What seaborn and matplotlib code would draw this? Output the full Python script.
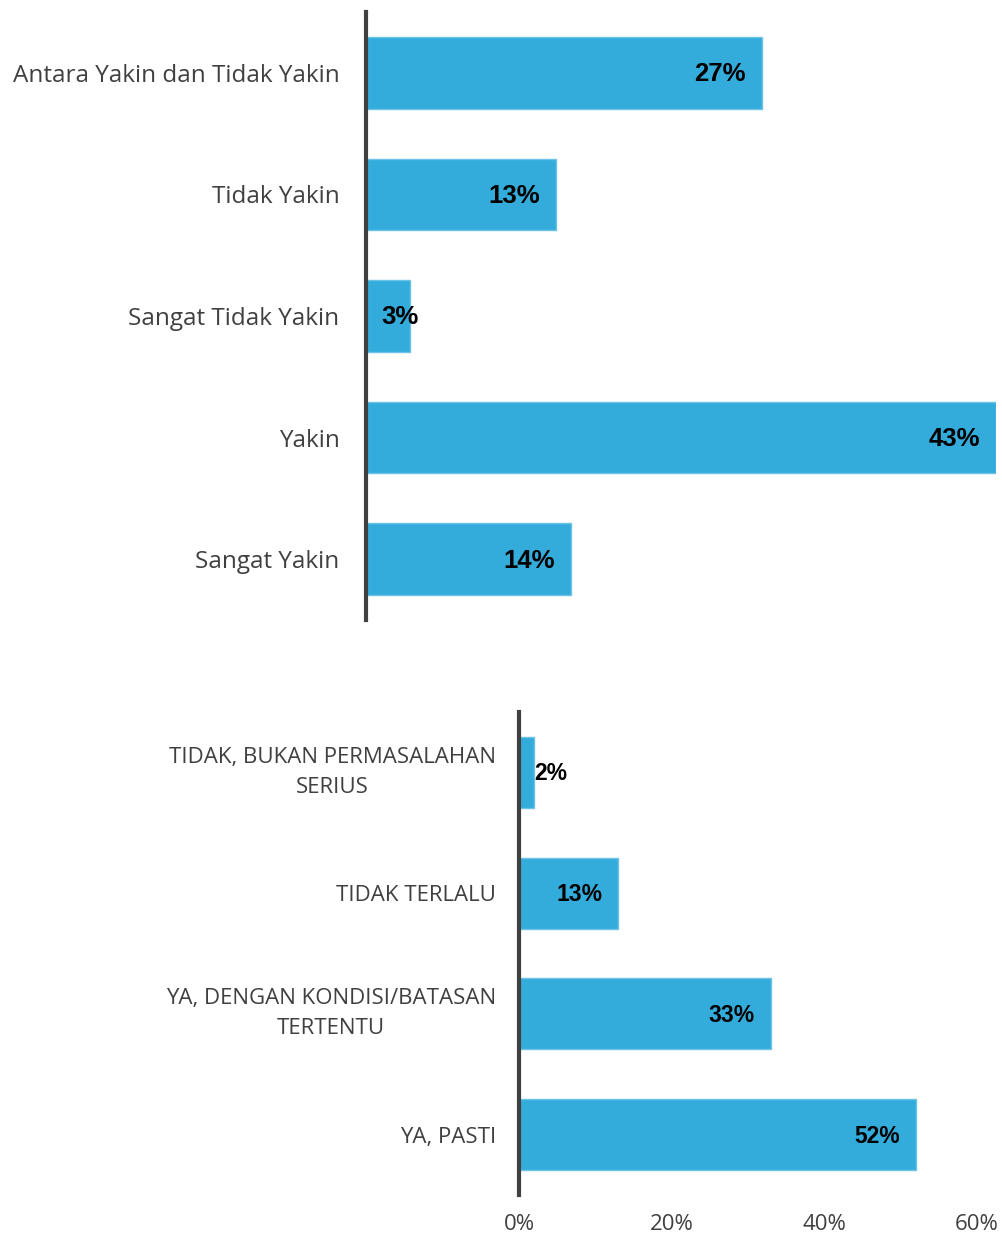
import matplotlib
matplotlib.use("Agg")
import matplotlib.pyplot as plt
import seaborn as sns
import pandas as pd

# Survey results
conf_labels = ["Antara Yakin dan Tidak Yakin", "Tidak Yakin", "Sangat Tidak Yakin",
               "Yakin", "Sangat Yakin"]
conf_values = [27, 13, 3, 43, 14]

issue_labels = ["TIDAK, BUKAN PERMASALAHAN\nSERIUS", "TIDAK TERLALU",
                "YA, DENGAN KONDISI/BATASAN\nTERTENTU", "YA, PASTI"]
issue_values = [2, 13, 33, 52]
issue_ticks = [0, 20, 40, 60]

BAR = "#33ACDB"
EDGE = "#6CC3E6"
SPINE = "#404040"
TEXT = "#404040"

sns.set_theme(style="white")
plt.rcParams["font.family"] = ["Open Sans", "DejaVu Sans"]

W, H = 1002, 1237
fig = plt.figure(figsize=(W / 100, H / 100), dpi=100)


def frac(x0, x1, ytop, ybot):
    return [x0 / W, (H - ybot) / H, (x1 - x0) / W, (ybot - ytop) / H]


def draw(ax, labels, values, xmax, lab_size, val_size, pad):
    df = pd.DataFrame({"cat": labels, "val": values})
    sns.barplot(data=df, y="cat", x="val", orient="h", color=BAR, width=0.59,
                edgecolor=EDGE, linewidth=1, saturation=1, ax=ax)
    ax.set_xlim(0, xmax)
    ax.set_ylim(len(labels) - 0.5, -0.5)
    ax.set_xlabel("")
    ax.set_ylabel("")
    for s in ["top", "right", "bottom"]:
        ax.spines[s].set_visible(False)
    ax.spines["left"].set_color(SPINE)
    ax.spines["left"].set_linewidth(3)
    ax.spines["left"].set_zorder(5)
    ax.tick_params(axis="y", length=0, pad=pad, labelsize=lab_size, labelcolor=TEXT)
    for t in ax.get_yticklabels():
        t.set_multialignment("center")
        t.set_linespacing(1.55)
        if "\n" in t.get_text():
            t.set_verticalalignment("center")
    for i, v in enumerate(values):
        if v < 5:
            ax.annotate(f"{v}%", xy=(0, i), xytext=(11, -1), textcoords="offset points",
                        ha="left", va="center", fontsize=val_size, fontweight="bold",
                        color="black", family="Liberation Sans")
        else:
            ax.annotate(f"{v}%", xy=(v, i), xytext=(-11.5, -1), textcoords="offset points",
                        ha="right", va="center", fontsize=val_size, fontweight="bold",
                        color="black", family="Liberation Sans")


ax1 = fig.add_axes(frac(366, 996, 12, 620))
draw(ax1, conf_labels, conf_values, 43, 17.5, 18.5, 19)
ax1.set_xticks([])

ax2 = fig.add_axes(frac(519, 977, 712, 1195))
draw(ax2, issue_labels, issue_values, 60, 16, 16.5, 16.5)
ax2.set_xticks(issue_ticks)
ax2.set_xticklabels([f"{t}%" for t in issue_ticks])
ax2.tick_params(axis="x", length=0, pad=14, labelsize=16, labelcolor=TEXT)

fig.savefig("out.png", dpi=100)
